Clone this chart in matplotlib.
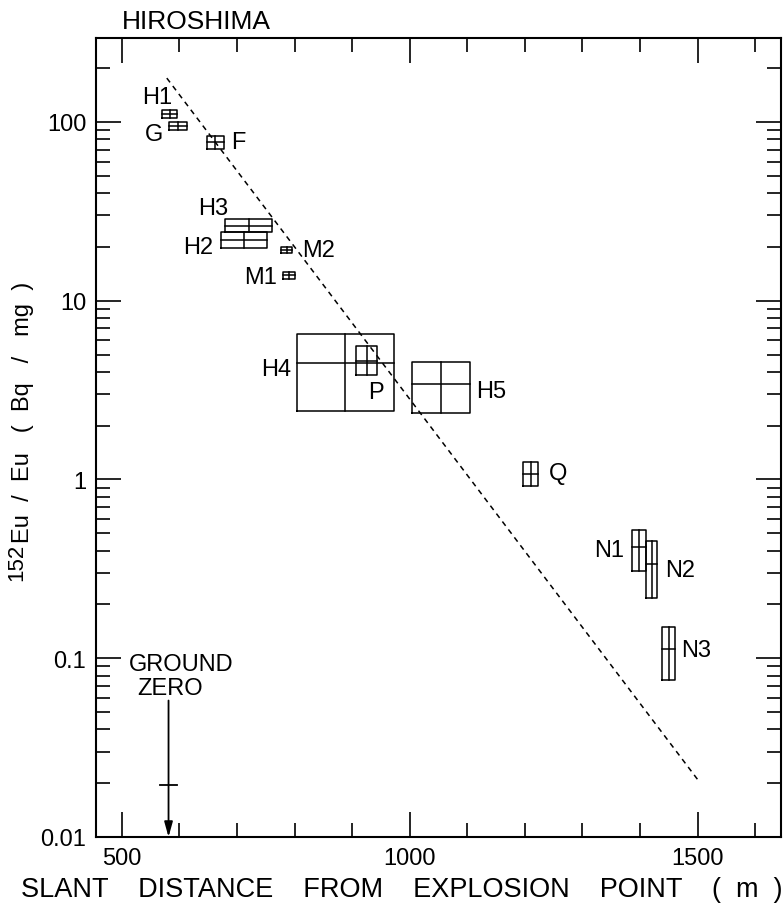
"""
Hiroshima: 152Eu/Eu activity vs slant distance from the explosion point.
Boxes show the distance / activity range of each sample, with a cross at
the central value.
"""

import matplotlib.pyplot as plt
from matplotlib.ticker import FixedLocator, LogLocator, NullFormatter

plt.rcParams["font.family"] = ["Liberation Sans", "DejaVu Sans"]

# samples (distance in m, ratio in Bq/mg)
NAMES    = ["H1", "G", "F", "H3", "H2", "M2", "M1",
            "H4", "P", "H5", "Q", "N1", "N2", "N3"]
DIST     = [583, 597, 662, 721, 712, 786, 790, 888, 926, 1055, 1210, 1399, 1421, 1450]
DIST_LO  = [570, 582, 647, 679, 672, 777, 780, 804, 907, 1004, 1197, 1387, 1411, 1439]
DIST_HI  = [596, 613, 677, 761, 752, 796, 801, 973, 943, 1105, 1222, 1411, 1430, 1460]
RATIO    = [111, 95, 76.8, 26.2, 21.9, 19.2, 13.9, 4.48, 4.6, 3.42, 1.07, 0.419, 0.336, 0.113]
RATIO_LO = [105, 90.2, 70.6, 24.3, 19.7, 18.5, 13.2, 2.42, 3.84, 2.36, 0.92, 0.308, 0.217, 0.0755]
RATIO_HI = [117, 100, 83.5, 28.7, 24.3, 20.0, 14.5, 6.52, 5.58, 4.57, 1.25, 0.522, 0.453, 0.150]

# calculated curve (dashed)
CALC_DIST  = [578, 1500]
CALC_RATIO = [176, 0.021]

# ground zero marker
GZ_DIST  = 581
GZ_TOP   = 0.058
GZ_BAR   = 0.0195
GZ_HALF  = 14

X_MAJOR = [500, 1000, 1500]
X_MINOR = [600, 700, 800, 900, 1100, 1200, 1300, 1400, 1600]
Y_MAJOR = [0.01, 0.1, 1, 10, 100]
Y_TICKLABELS = ["0.01", "0.1", "1", "10", "100"]

# label offsets from the box centre, in points
LABEL_OFFSET = {
    "H1": (-9, 12), "G": (-17, -6), "F": (17, 0), "H3": (-26, 13),
    "H2": (-33, -5), "M2": (23, 0), "M1": (-20, -1), "H4": (-50, -4),
    "P": (6, -22), "H5": (36, -5), "Q": (20, 1), "N1": (-22, -2),
    "N2": (20, -4), "N3": (20, -1),
}

FS = 17
LW = 1.1

fig = plt.figure(figsize=(7.84, 9.12), dpi=100)
ax = fig.add_axes([96 / 784, 1 - 838 / 912, 685 / 784, 799 / 912])

ax.set_yscale("log")
ax.set_xlim(455, 1645)
ax.set_ylim(0.01, 295)

# dashed calculated line
ax.plot(CALC_DIST, CALC_RATIO, color="black", lw=1.1, ls=(0, (3.5, 3)))

# sample boxes with centre cross
for i, name in enumerate(NAMES):
    x0, x1 = DIST_LO[i], DIST_HI[i]
    y0, y1 = RATIO_LO[i], RATIO_HI[i]
    ax.plot([x0, x1, x1, x0, x0], [y0, y0, y1, y1, y0], color="black", lw=LW)
    ax.plot([x0, x1], [RATIO[i], RATIO[i]], color="black", lw=LW)
    ax.plot([DIST[i], DIST[i]], [y0, y1], color="black", lw=LW)
    ax.annotate(name, (DIST[i], RATIO[i]), xytext=LABEL_OFFSET[name],
                textcoords="offset points", ha="center", va="center",
                fontsize=FS)

# ground zero
ax.annotate("", xy=(GZ_DIST, 0.01), xytext=(GZ_DIST, GZ_TOP),
            arrowprops=dict(arrowstyle="-|>,head_length=0.9,head_width=0.25",
                            color="black", lw=1.3, shrinkA=0, shrinkB=0))
ax.plot([GZ_DIST - GZ_HALF, GZ_DIST + GZ_HALF], [GZ_BAR, GZ_BAR],
        color="black", lw=1.3)
ax.annotate("GROUND", (GZ_DIST, GZ_TOP), xytext=(9, 26),
            textcoords="offset points", ha="center", va="center", fontsize=FS)
ax.annotate("ZERO", (GZ_DIST, GZ_TOP), xytext=(1, 9),
            textcoords="offset points", ha="center", va="center", fontsize=FS)

# axes, ticks
ax.xaxis.set_major_locator(FixedLocator(X_MAJOR))
ax.xaxis.set_minor_locator(FixedLocator(X_MINOR))
ax.yaxis.set_major_locator(FixedLocator(Y_MAJOR))
ax.set_yticklabels(Y_TICKLABELS)
ax.yaxis.set_minor_locator(LogLocator(base=10, subs=range(2, 10)))
ax.yaxis.set_minor_formatter(NullFormatter())

ax.tick_params(which="both", direction="in", top=True, right=True,
               labelsize=FS, width=1.2, colors="black")
ax.tick_params(which="major", length=18, pad=7)
ax.tick_params(which="minor", length=10)
for s in ax.spines.values():
    s.set_linewidth(1.5)

fig.text(122 / 784, 1 - 22 / 912, "HIROSHIMA", fontsize=19,
         ha="left", va="center")
fig.text(402 / 784, 1 - 890 / 912,
         "SLANT    DISTANCE    FROM    EXPLOSION    POINT    (  m  )",
         fontsize=19.5, ha="center", va="center")

# y label: raised "152" followed by the rest
fig.text(17 / 784, 1 - 581 / 912, "152", fontsize=16, rotation=90,
         ha="center", va="bottom")
fig.text(23 / 784, 1 - 543 / 912, "Eu  /  Eu   (  Bq   /   mg  )",
         fontsize=FS, rotation=90, ha="center", va="bottom")

fig.savefig("out.png", dpi=100)
